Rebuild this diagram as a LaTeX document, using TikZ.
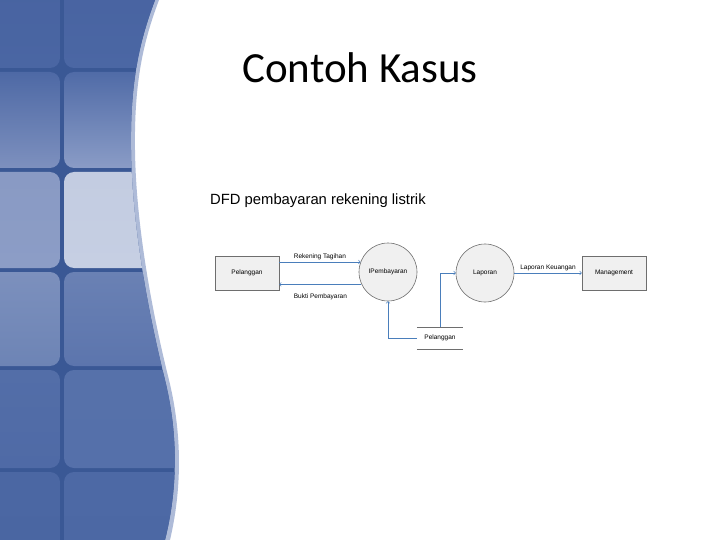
\documentclass[tikz,border=0pt]{standalone}
\usepackage{fontspec}
\setmainfont{Liberation Sans}
\newfontfamily\titlefont{Carlito}
\usetikzlibrary{positioning}

\definecolor{panelblue}{HTML}{3A5895}
\definecolor{paneledge}{HTML}{AEBBD8}
\definecolor{flowblue}{HTML}{4A7EBB}
\definecolor{boxgray}{HTML}{F0F0F0}
\definecolor{linegray}{HTML}{6E6E6E}

\tikzset{
  entity/.style={draw=linegray,fill=boxgray,line width=0.6pt,minimum width=64pt,minimum height=34pt,font=\fontsize{6.5}{8}\selectfont},
  proc/.style={draw=linegray,fill=boxgray,circle,line width=0.6pt,minimum size=58pt,inner sep=0pt,font=\fontsize{6.5}{8}\selectfont},
  store/.style={minimum width=46pt,minimum height=22pt,inner sep=0pt,font=\fontsize{6.5}{8}\selectfont},
  flow/.style={->,draw=flowblue,line width=0.6pt},
  flowlabel/.style={font=\fontsize{6.5}{8}\selectfont,inner sep=1.5pt}
}

\begin{document}
\begin{tikzpicture}[x=1pt,y=-1pt]
  \useasboundingbox (0,0) rectangle (720,540);

  % side panel
  \fill[paneledge] (0,0) -- (159,0) .. controls (144,40) and (134,80) .. (135,150)
    .. controls (136,230) and (154,320) .. (169,380) .. controls (180,425) and (184,480) .. (170,540) -- (0,540) -- cycle;
  \begin{scope}
    \clip (0,0) -- (155,0) .. controls (140,40) and (130,80) .. (131,150)
      .. controls (132,230) and (150,320) .. (165,380) .. controls (176,425) and (180,480) .. (165,540) -- (0,540) -- cycle;
    \fill[panelblue] (0,0) rectangle (200,540);
    \foreach \ya/\yb/\lt/\lb/\rt/\rb in {-20/68/4863A1/4A66A3/4863A1/4B67A4,
                                         72/168/4E69A5/7D90BE/506BA7/8A9CC6,
                                         172/268/899AC4/8C9DC6/C3CCE1/C6CFE3,
                                         272/366/7C90BD/6D84B5/6A81B4/5C75AD,
                                         370/468/536EA8/4F6AA6/5671AA/5570AA,
                                         472/560/4B67A3/4A66A2/4D69A5/4C68A4}{
      \definecolor{tileLt}{HTML}{\lt}
      \definecolor{tileLb}{HTML}{\lb}
      \definecolor{tileRt}{HTML}{\rt}
      \definecolor{tileRb}{HTML}{\rb}
      \shade[top color=tileLt,bottom color=tileLb,rounded corners=10pt] (-20,\ya) rectangle (60,\yb);
      \shade[top color=tileRt,bottom color=tileRb,rounded corners=10pt] (64,\ya) rectangle (240,\yb);
    }
  \end{scope}

  % title
  \node[font=\titlefont\fontsize{43}{48}\selectfont] (title) at (360,68) {Contoh Kasus};
  \node[anchor=west,font=\fontsize{14.8}{17}\selectfont,inner sep=0pt] (dfdtitle) at (210,201) {DFD pembayaran rekening listrik};

  % DFD
  \node[entity] (pelanggan) at (247,273) {Pelanggan};
  \node[proc] (pembayaran) at (388,272) {IPembayaran};
  \node[proc] (laporan) at (485,273) {Laporan};
  \node[entity] (management) at (614,273) {Management};
  \node[store] (dspelanggan) at (440,338) {Pelanggan};
  \draw[linegray,line width=0.6pt] (dspelanggan.north west) -- (dspelanggan.north east)
    (dspelanggan.south west) -- (dspelanggan.south east);

  \draw[flow] (pelanggan.east |- pembayaran.160) -- node[flowlabel,above] {Rekening Tagihan} (pembayaran.160);
  \draw[flow] (pembayaran.205) -- node[flowlabel,below=8pt] {Bukti Pembayaran} (pelanggan.east |- pembayaran.205);
  \draw[flow] (dspelanggan.west) -| (pembayaran.south);
  \draw[flow] (dspelanggan.north) |- (laporan.west);
  \draw[flow] (laporan.east) -- node[flowlabel,above] {Laporan Keuangan} (management.west);
\end{tikzpicture}
\end{document}
